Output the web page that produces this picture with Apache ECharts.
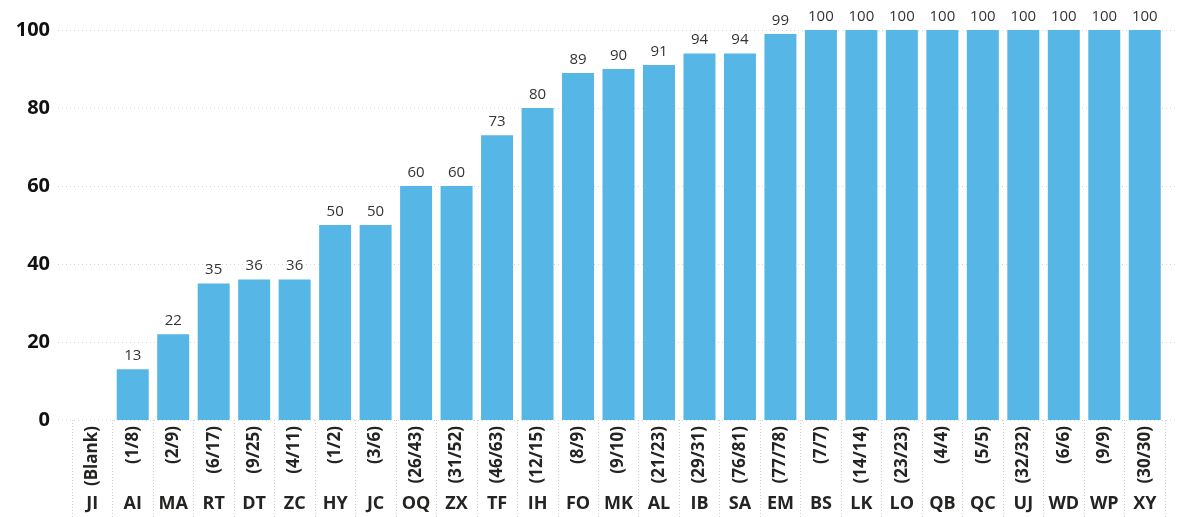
<!DOCTYPE html>
<html>
<head>
<meta charset="utf-8">
<script src="https://cdn.jsdelivr.net/npm/echarts@6/dist/echarts.min.js"></script>
<style>
  html, body { margin: 0; padding: 0; background: #fff; }
  #chart { width: 1182px; height: 517px; }
</style>
</head>
<body>
<div id="chart"></div>
<script>
// Category codes along the bottom row
const categories = ['JI','AI','MA','RT','DT','ZC','HY','JC','OQ','ZX','TF','IH','FO','MK','AL','IB','SA','EM','BS','LK','LO','QB','QC','UJ','WD','WP','XY'];
// Count fractions shown above each code
const fractions = ['(Blank)','(1/8)','(2/9)','(6/17)','(9/25)','(4/11)','(1/2)','(3/6)','(26/43)','(31/52)','(46/63)','(12/15)','(8/9)','(9/10)','(21/23)','(29/31)','(76/81)','(77/78)','(7/7)','(14/14)','(23/23)','(4/4)','(5/5)','(32/32)','(6/6)','(9/9)','(30/30)'];
// Percentage per category
const values = [null,13,22,35,36,36,50,50,60,60,73,80,89,90,91,94,94,99,100,100,100,100,100,100,100,100,100];
// Value-axis ticks
const yMin = 0, yMax = 100, yStep = 20;

const FONT = '"Open Sans", "Noto Sans", sans-serif';
const gridTop = 30, gridBottom = 97;

const chart = echarts.init(document.getElementById('chart'), null, { renderer: 'canvas' });
chart.setOption({
  animation: false,
  backgroundColor: '#ffffff',
  grid: [
    { left: 58, right: 7, top: gridTop, bottom: gridBottom },
    { left: 72, right: 17, top: gridTop, bottom: gridBottom }
  ],
  xAxis: [
    { type: 'value', gridIndex: 0, show: false, min: 0, max: 1 },
    {
      type: 'category', gridIndex: 1, data: fractions,
      axisLine: { show: false },
      axisTick: { show: true, length: 97, lineStyle: { color: '#d0d0d0', type: [1, 2], width: 1 } },
      axisLabel: { interval: 0, rotate: 90, margin: 6, fontSize: 17, fontWeight: 'bold', color: '#252423', fontFamily: FONT }
    },
    {
      type: 'category', gridIndex: 1, data: categories, position: 'bottom', offset: 68,
      axisLine: { show: false }, axisTick: { show: false },
      axisLabel: { interval: 0, margin: 7, fontSize: 18, fontWeight: 'bold', color: '#252423', fontFamily: FONT }
    }
  ],
  yAxis: [
    {
      type: 'value', gridIndex: 0, min: yMin, max: yMax, interval: yStep,
      axisLine: { show: false }, axisTick: { show: false },
      axisLabel: { margin: 8, fontSize: 20, fontWeight: 'bold', color: '#111', fontFamily: FONT },
      splitLine: { show: true, lineStyle: { color: '#d6d6d6', type: [1, 3], width: 1 } }
    },
    { type: 'value', gridIndex: 1, min: yMin, max: yMax, interval: yStep, show: false }
  ],
  series: [{
    type: 'bar',
    xAxisIndex: 1, yAxisIndex: 1,
    data: values,
    barCategoryGap: '21%',
    itemStyle: { color: '#56B6E5' },
    label: {
      show: true, position: 'top', distance: 6,
      fontSize: 15, color: '#333', fontFamily: FONT
    }
  }]
});
</script>
</body>
</html>
